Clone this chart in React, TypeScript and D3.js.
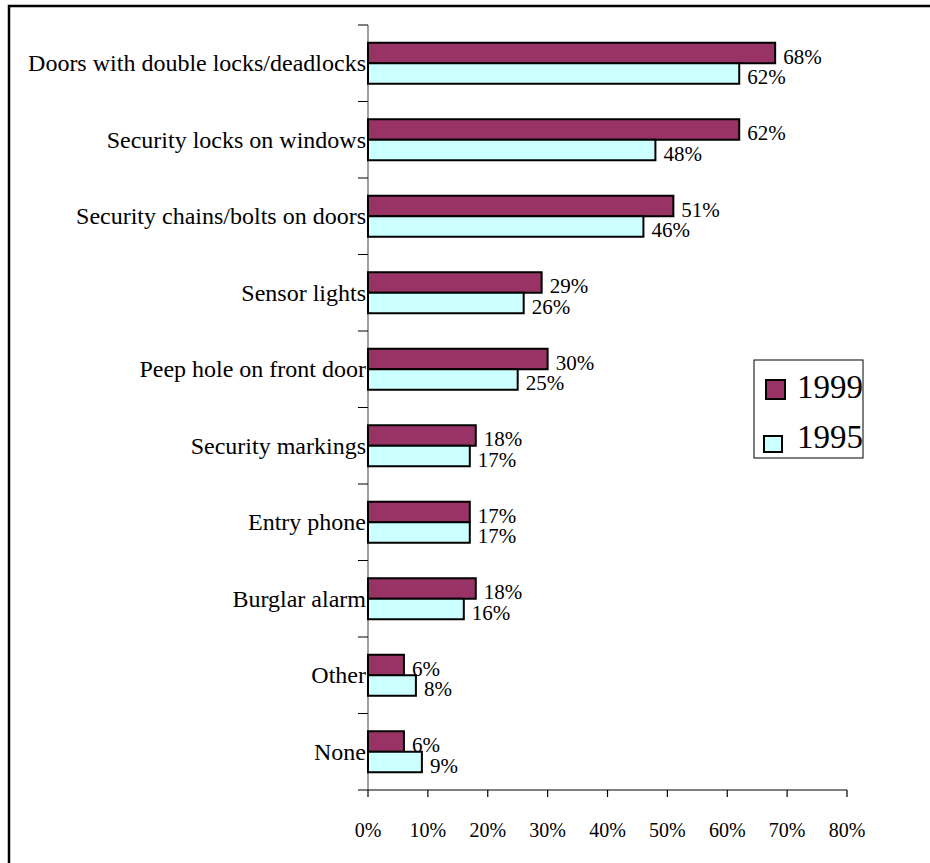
import React from "react";
import * as d3 from "d3";

const categories = [
  "Doors with double locks/deadlocks",
  "Security locks on windows",
  "Security chains/bolts on doors",
  "Sensor lights",
  "Peep hole on front door",
  "Security markings",
  "Entry phone",
  "Burglar alarm",
  "Other",
  "None",
];
const values1999 = [68, 62, 51, 29, 30, 18, 17, 18, 6, 6];
const values1995 = [62, 48, 46, 26, 25, 17, 17, 16, 8, 9];
const xTicks = [0, 10, 20, 30, 40, 50, 60, 70, 80];
const seriesNames = ["1999", "1995"];
const seriesColors = ["#993366", "#CCFFFF"];

const FONT = "'Liberation Serif', 'Times New Roman', 'DejaVu Serif', serif";

export default function App() {
  const W = 930, H = 863;
  const x0 = 368, x1 = 847, yTop = 25, yBot = 790;
  const x = d3.scaleLinear().domain([0, 80]).range([x0, x1]);
  const y = d3.scaleBand<string>().domain(categories).range([yTop, yBot]);
  const bw = y.bandwidth();
  const barH = 20.5;
  const series = [values1999, values1995];

  return (
    <svg width={W} height={H} style={{ position: "absolute", left: 0, top: 0 }} fontFamily={FONT}>
      <rect x={0} y={0} width={W} height={H} fill="#fff" />
      <path d={`M9,${H + 5} V6 H${W + 5}`} fill="none" stroke="#000" strokeWidth={2.5} />
      {/* y axis */}
      <line x1={x0} x2={x0} y1={yTop} y2={yBot} stroke="#808080" strokeWidth={1.5} />
      {categories.map((c, i) => (
        <line key={"yt" + i} x1={x0 - 10} x2={x0} y1={y(c)!} y2={y(c)!} stroke="#000" strokeWidth={1} />
      ))}
      {/* x axis */}
      <line x1={x0 - 10} x2={x1} y1={yBot} y2={yBot} stroke="#000" strokeWidth={1.2} />
      {xTicks.map((t) => (
        <g key={"xt" + t}>
          <line x1={x(t)} x2={x(t)} y1={yBot} y2={yBot + 7} stroke="#000" strokeWidth={1.2} />
          <text x={x(t)} y={yBot + 47} textAnchor="middle" fontSize={20} fill="#000">{t}%</text>
        </g>
      ))}
      {/* bars */}
      {categories.map((c, i) => {
        const cy = y(c)! + bw / 2;
        return (
          <g key={"c" + i}>
            <text x={x0 - 2} y={cy + 8} textAnchor="end" fontSize={24} fill="#000">{c}</text>
            {series.map((vals, s) => {
              const top = cy - barH + s * barH;
              return (
                <g key={s}>
                  <rect x={x(0)} y={top} width={x(vals[i]) - x(0)} height={barH}
                    fill={seriesColors[s]} stroke="#000" strokeWidth={2} />
                  <text x={x(vals[i]) + 8} y={top + barH + 0.5} fontSize={21} fill="#000">{vals[i]}%</text>
                </g>
              );
            })}
          </g>
        );
      })}
      {/* legend */}
      <rect x={754} y={360} width={109} height={98} fill="#fff" stroke="#000" strokeWidth={1} />
      <rect x={766} y={380} width={19} height={19} fill={seriesColors[0]} stroke="#000" strokeWidth={2} />
      <text x={797} y={398} fontSize={33} fill="#000">{seriesNames[0]}</text>
      <rect x={764} y={436} width={18} height={16} fill={seriesColors[1]} stroke="#000" strokeWidth={2} />
      <text x={797} y={448} fontSize={33} fill="#000">{seriesNames[1]}</text>
    </svg>
  );
}
